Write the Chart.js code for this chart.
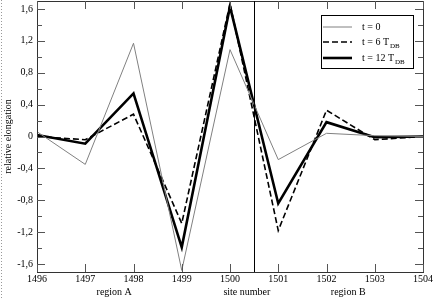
<!DOCTYPE html>
<html>
<head>
<meta charset="utf-8">
<script src="https://cdn.jsdelivr.net/npm/chart.js@4/dist/chart.umd.min.js"></script>
<style>
  html, body { margin: 0; padding: 0; background: #fff; }
  #wrap { width: 436px; height: 299px; position: relative; }
</style>
</head>
<body>
<div id="wrap"><canvas id="c" width="436" height="299"></canvas></div>
<script>
// ---- data ----
const sites = [1496, 1497, 1498, 1499, 1500, 1501, 1502, 1503, 1504];
const seriesNames = ['t = 0', 't = 6 T', 't = 12 T'];
const seriesSubs = ['', 'DB', 'DB'];
const valuesT0 = [0.06, -0.35, 1.17, -1.68, 1.09, -0.29, 0.04, 0.01, 0.0];
const valuesT6 = [0.0, -0.04, 0.28, -1.09, 1.67, -1.18, 0.33, -0.04, 0.0];
const valuesT12 = [0.02, -0.09, 0.54, -1.39, 1.63, -0.84, 0.18, -0.01, 0.0];
const yTicks = [-1.6, -1.2, -0.8, -0.4, 0, 0.4, 0.8, 1.2, 1.6];
const yMinorTicks = [-1.4, -1.0, -0.6, -0.2, 0.2, 0.6, 1.0, 1.4];
const boundarySite = 1500.5;
const xAxisTitles = ['region A', 'site number', 'region B'];
const xAxisTitleAt = [1497.6, 1500.35, 1502.45];
const yAxisTitle = 'relative elongation';

const FONT = '"Liberation Serif", "DejaVu Serif", serif';

function pts(vals) { return sites.map((s, i) => ({ x: s, y: vals[i] })); }

const styles = [
  { color: '#808080', width: 1, dash: [] },
  { color: '#000000', width: 1.6, dash: [6, 3] },
  { color: '#000000', width: 2.6, dash: [] }
];
const allValues = [valuesT0, valuesT6, valuesT12];

const decor = {
  id: 'decor',
  afterDraw(chart) {
    const ctx = chart.ctx;
    const a = chart.chartArea;
    const xs = chart.scales.x, ys = chart.scales.y;
    ctx.save();
    // dotted page edge
    ctx.strokeStyle = '#999';
    ctx.lineWidth = 1;
    ctx.setLineDash([1, 2]);
    ctx.beginPath(); ctx.moveTo(1.5, 0); ctx.lineTo(1.5, 299); ctx.stroke();
    ctx.setLineDash([]);
    // frame
    ctx.strokeStyle = '#333';
    ctx.strokeRect(Math.round(a.left) + 0.5, Math.round(a.top) + 0.5,
      Math.round(a.right - a.left), Math.round(a.bottom - a.top));
    // ticks
    ctx.strokeStyle = '#555';
    ctx.beginPath();
    yTicks.forEach(v => {
      const y = Math.round(ys.getPixelForValue(v)) + 0.5;
      ctx.moveTo(a.left, y); ctx.lineTo(a.left + 8, y);
      ctx.moveTo(a.right, y); ctx.lineTo(a.right - 8, y);
    });
    yMinorTicks.forEach(v => {
      const y = Math.round(ys.getPixelForValue(v)) + 0.5;
      ctx.moveTo(a.left, y); ctx.lineTo(a.left + 5, y);
      ctx.moveTo(a.right, y); ctx.lineTo(a.right - 5, y);
    });
    sites.forEach(s => {
      const x = Math.round(xs.getPixelForValue(s)) + 0.5;
      ctx.moveTo(x, a.bottom); ctx.lineTo(x, a.bottom - 8);
      ctx.moveTo(x, a.top); ctx.lineTo(x, a.top + 8);
    });
    ctx.stroke();
    // boundary line
    ctx.strokeStyle = '#000';
    const bx = Math.round(xs.getPixelForValue(boundarySite)) + 0.5;
    ctx.beginPath(); ctx.moveTo(bx, a.top); ctx.lineTo(bx, a.bottom); ctx.stroke();
    // x axis titles
    ctx.fillStyle = '#000';
    ctx.font = '10px ' + FONT;
    ctx.textAlign = 'center';
    ctx.textBaseline = 'middle';
    xAxisTitles.forEach((t, i) => {
      ctx.fillText(t, xs.getPixelForValue(xAxisTitleAt[i]), 292);
    });
    // y axis title
    ctx.save();
    ctx.translate(8, (a.top + a.bottom) / 2);
    ctx.rotate(-Math.PI / 2);
    ctx.fillText(yAxisTitle, 0, 0);
    ctx.restore();
    // legend
    const lx = 321.5, ly = 15.5, lw = 92, lh = 53;
    ctx.fillStyle = '#fff';
    ctx.fillRect(lx, ly, lw, lh);
    ctx.strokeStyle = '#000';
    ctx.lineWidth = 1;
    ctx.strokeRect(lx, ly, lw, lh);
    const rows = [27, 42, 58];
    seriesNames.forEach((n, i) => {
      const st = styles[i];
      ctx.strokeStyle = st.color;
      ctx.lineWidth = st.width;
      ctx.setLineDash(st.dash);
      ctx.beginPath(); ctx.moveTo(323, rows[i]); ctx.lineTo(352, rows[i]); ctx.stroke();
      ctx.setLineDash([]);
      ctx.fillStyle = '#000';
      ctx.textAlign = 'left';
      ctx.textBaseline = 'alphabetic';
      ctx.font = '10px ' + FONT;
      ctx.fillText(n, 362, rows[i] + 3);
      if (seriesSubs[i]) {
        const w = ctx.measureText(n).width;
        ctx.font = '7px ' + FONT;
        ctx.fillText(seriesSubs[i], 362 + w + 1, rows[i] + 6);
      }
    });
    ctx.restore();
  }
};

new Chart(document.getElementById('c'), {
  type: 'line',
  data: {
    datasets: allValues.map((vals, i) => ({
      label: seriesNames[i] + seriesSubs[i],
      data: pts(vals),
      borderColor: styles[i].color,
      borderWidth: styles[i].width,
      borderDash: styles[i].dash,
      pointRadius: 0,
      tension: 0,
      fill: false
    }))
  },
  options: {
    responsive: false,
    animation: false,
    layout: { padding: { top: 1, right: 13, left: 0, bottom: 0 } },
    plugins: { legend: { display: false }, tooltip: { enabled: false } },
    scales: {
      x: {
        type: 'linear',
        min: sites[0],
        max: sites[sites.length - 1],
        grid: { display: false, drawTicks: false },
        border: { display: false },
        afterBuildTicks: s => { s.ticks = sites.map(v => ({ value: v })); },
        afterFit: s => { s.height = 27; s.paddingLeft = 0; s.paddingRight = 0; },
        ticks: {
          padding: 1,
          maxRotation: 0,
          autoSkip: false,
          color: '#000',
          font: { family: FONT, size: 10 },
          callback: v => String(v)
        }
      },
      y: {
        min: -1.7,
        max: 1.7,
        grid: { display: false, drawTicks: false },
        border: { display: false },
        afterBuildTicks: s => { s.ticks = yTicks.map(v => ({ value: v })); },
        afterFit: s => { s.width = 37; s.paddingTop = 0; s.paddingBottom = 0; },
        ticks: {
          padding: 4,
          color: '#000',
          font: { family: FONT, size: 10 },
          callback: v => Math.abs(v) < 1e-9 ? '0' : v.toFixed(1).replace('.', ',')
        }
      }
    }
  },
  plugins: [decor]
});
</script>
</body>
</html>
